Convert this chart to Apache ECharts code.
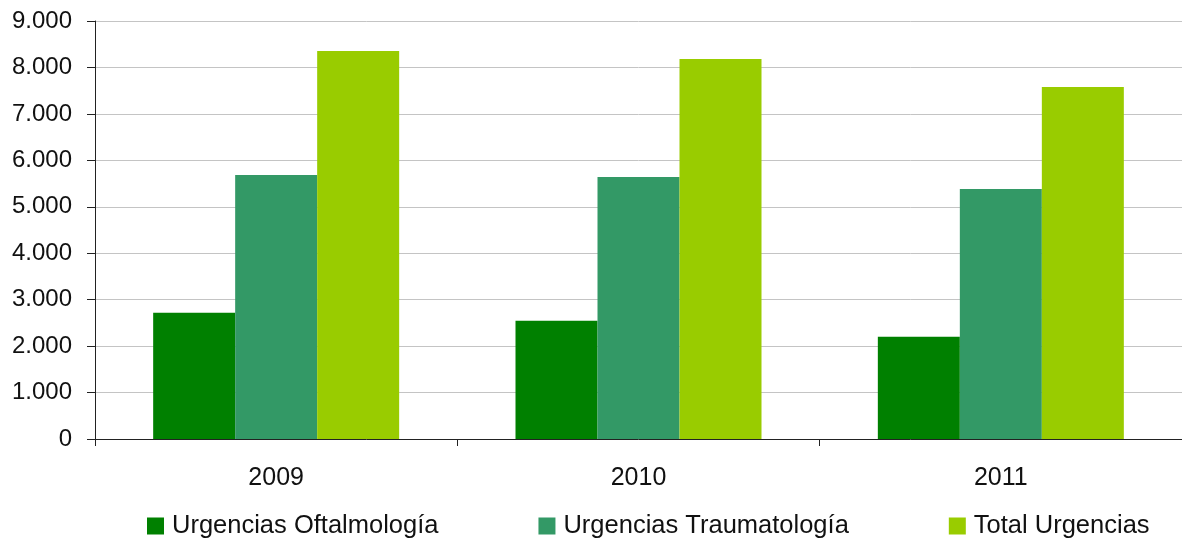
<!DOCTYPE html>
<html>
<head>
<meta charset="utf-8">
<script src="https://cdn.jsdelivr.net/npm/echarts@6/dist/echarts.min.js"></script>
<style>
  html, body { margin: 0; padding: 0; background: #fff; }
  #main { width: 1182px; height: 538px; }
</style>
</head>
<body>
<div id="main"></div>
<script>
var years = ['2009', '2010', '2011'];
var oftalmologia = [2717, 2545, 2201];
var traumatologia = [5686, 5643, 5385];
var totalUrgencias = [8354, 8182, 7580];

var chart = echarts.init(document.getElementById('main'));

var fontFamily = '"Liberation Sans", Arial, sans-serif';

function bar(name, data, color) {
    return {
        name: name,
        type: 'bar',
        data: data,
        barWidth: 82,
        barGap: '0%',
        itemStyle: { color: color },
        emphasis: { disabled: true }
    };
}

var option = {
    animation: false,
    textStyle: { fontFamily: fontFamily },
    grid: {
        left: 95,
        right: -6,
        top: 21,
        bottom: 99,
        containLabel: false
    },
    legend: {
        left: 147,
        top: 513,
        padding: 0,
        itemWidth: 17,
        itemHeight: 17,
        itemGap: 100,
        icon: 'rect',
        textStyle: { fontSize: 25.5, color: '#111', fontFamily: fontFamily, padding: [0, 0, 0, 3] },
        data: ['Urgencias Oftalmología', 'Urgencias Traumatología', 'Total Urgencias']
    },
    xAxis: {
        type: 'category',
        data: years,
        axisLine: { lineStyle: { color: '#222', width: 1 } },
        axisTick: { show: true, length: 7, alignWithLabel: false, lineStyle: { color: '#222' } },
        axisLabel: { fontSize: 25, color: '#111', margin: 27 }
    },
    yAxis: {
        type: 'value',
        min: 0,
        max: 9000,
        interval: 1000,
        axisLine: { show: true, lineStyle: { color: '#222', width: 1 } },
        axisTick: { show: true, length: 8, lineStyle: { color: '#222' } },
        splitLine: { lineStyle: { color: '#c4c4c4', width: 1 } },
        axisLabel: {
            fontSize: 24,
            color: '#111',
            margin: 23,
            formatter: function (v) {
                return v.toLocaleString('de-DE');
            }
        }
    },
    series: [
        bar('Urgencias Oftalmología', oftalmologia, '#008000'),
        bar('Urgencias Traumatología', traumatologia, '#339966'),
        bar('Total Urgencias', totalUrgencias, '#99cc00')
    ]
};

chart.setOption(option);
</script>
</body>
</html>
